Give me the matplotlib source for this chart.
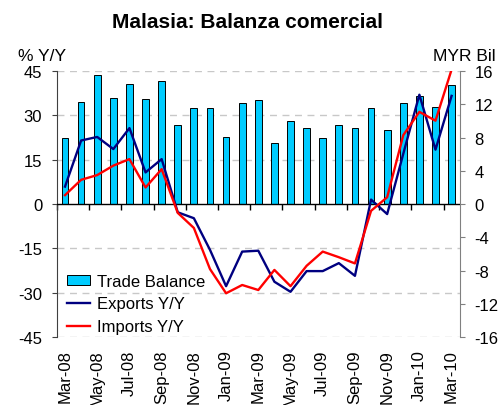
import matplotlib
matplotlib.use('Agg')
import matplotlib.pyplot as plt
from matplotlib.patches import Patch
from matplotlib.lines import Line2D
import numpy as np

plt.rcParams['font.family'] = ['Liberation Sans', 'DejaVu Sans']
plt.rcParams['axes.unicode_minus'] = False

# months Mar-08 ~ Mar-10
months = ['Mar-08', 'Apr-08', 'May-08', 'Jun-08', 'Jul-08', 'Aug-08', 'Sep-08',
          'Oct-08', 'Nov-08', 'Dec-08', 'Jan-09', 'Feb-09', 'Mar-09', 'Apr-09',
          'May-09', 'Jun-09', 'Jul-09', 'Aug-09', 'Sep-09', 'Oct-09', 'Nov-09',
          'Dec-09', 'Jan-10', 'Feb-10', 'Mar-10']

# trade balance, MYR bn (right axis)
trade_balance = [8.0, 12.3, 15.5, 12.8, 14.4, 12.6, 14.8, 9.5, 11.5, 11.6,
                 8.1, 12.1, 12.5, 7.4, 10.0, 9.1, 7.9, 9.5, 9.2, 11.5,
                 8.9, 12.1, 13.0, 11.7, 14.3]

# % Y/Y (left axis)
exports_yy = [5.9, 21.5, 22.7, 18.6, 25.7, 10.7, 15.2, -2.8, -4.8, -15.5,
              -27.8, -16.1, -15.8, -26.3, -29.7, -22.7, -22.7, -20.0, -24.3, 1.5,
              -3.4, 17.0, 37.0, 18.4, 36.6]
imports_yy = [3.0, 8.2, 9.8, 13.0, 15.2, 5.6, 11.8, -3.0, -8.1, -22.0,
              -30.2, -27.4, -29.1, -22.3, -27.8, -20.9, -16.1, -18.0, -20.1, -2.3,
              2.3, 23.3, 31.2, 28.2, 45.5]

x = np.arange(len(months))
fs = 12

fig = plt.figure(figsize=(5.04, 4.06), dpi=100)
ax = fig.add_axes([0.113, 0.1675, 0.799, 0.655])
ax2 = ax.twinx()

# bars on the right axis, lines on top
ax2.bar(x, trade_balance, width=0.42, color='#00CCFF', edgecolor='black',
        linewidth=0.7, zorder=2)
ax.set_zorder(ax2.get_zorder() + 1)
ax.patch.set_visible(False)

ax.plot(x, exports_yy, color='#000080', lw=1.7, zorder=4)
ax.plot(x, imports_yy, color='red', lw=1.7, zorder=4)
ax.axhline(0, color='black', lw=1, zorder=3)

ax.set_xlim(-0.5, len(months) - 0.5)
ax.set_ylim(-45, 45)
ax2.set_ylim(-16, 16)
ax.set_yticks([-45, -30, -15, 0, 15, 30, 45])
ax2.set_yticks([-16, -12, -8, -4, 0, 4, 8, 12, 16])

# dashed grid (drawn on the bar axis so it sits behind)
for v in [-45, -30, -15, 15, 30, 45]:
    ax2.axhline(v * 16 / 45, color='#C8C8C8', lw=1, ls=(0, (5, 4)), zorder=0)

for s in ['top', 'bottom']:
    ax.spines[s].set_visible(False)
    ax2.spines[s].set_visible(False)
ax.spines['left'].set_color('#404040')
ax2.spines['right'].set_color('#808080')
ax2.spines['left'].set_visible(False)
ax.spines['right'].set_visible(False)

ax.tick_params(axis='y', direction='out', length=3.6, pad=7, labelsize=fs, color='#404040')
ax2.tick_params(axis='y', direction='out', length=3.6, pad=7, labelsize=fs, color='#808080')

# month labels at the bottom
ax.set_xticks(x[::2])
ax.set_xticklabels(months[::2], rotation=90, fontsize=fs)
ax.tick_params(axis='x', length=0, pad=9)

# tick marks along the zero line
sec = ax.secondary_xaxis(0.5)
sec.xaxis.set_ticks_position('bottom')
sec.set_xticks(np.arange(-0.5, len(months) - 1, 2))
sec.set_xticklabels([])
sec.tick_params(axis='x', direction='out', length=4, width=1, color='black',
                labeltop=False, labelbottom=False)
for s in sec.spines.values():
    s.set_visible(False)

handles = [Patch(facecolor='#00CCFF', edgecolor='black', linewidth=0.7),
           Line2D([], [], color='#000080', lw=1.7),
           Line2D([], [], color='red', lw=1.7)]
ax.legend(handles, ['Trade Balance', 'Exports Y/Y', 'Imports Y/Y'],
          loc='upper left', bbox_to_anchor=(0.0075, 0.262), frameon=False,
          fontsize=fs, handlelength=1.4, handleheight=0.55, labelspacing=0.45,
          handletextpad=0.4, borderaxespad=0.0)

fig.text(0.492, 0.945, 'Malasia: Balanza comercial', ha='center', va='center',
         fontsize=15, fontweight='bold')
fig.text(0.036, 0.86, '% Y/Y', ha='left', va='center', fontsize=12.5)
fig.text(0.859, 0.86, 'MYR Bil', ha='left', va='center', fontsize=12.5)

fig.savefig('out.png', dpi=100)
